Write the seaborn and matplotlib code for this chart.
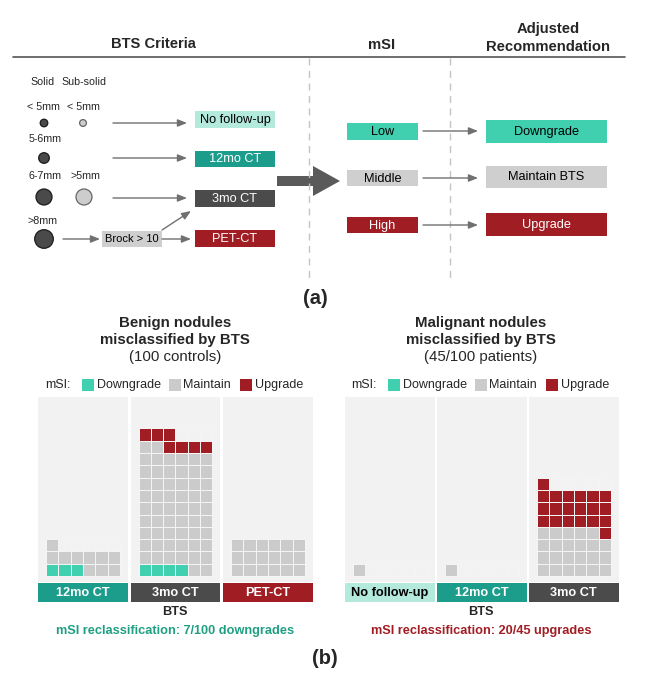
import numpy as np
import pandas as pd
import matplotlib
matplotlib.use("Agg")
import matplotlib.pyplot as plt
from matplotlib.patches import Rectangle, Circle, Polygon
from matplotlib.colors import ListedColormap
import seaborn as sns

# ---------------- data ----------------
benign_bts = ["12mo CT", "3mo CT", "PET-CT"]
benign_downgrade = [3, 4, 0]
benign_maintain = [10, 58, 18]
benign_upgrade = [0, 7, 0]

malignant_bts = ["No follow-up", "12mo CT", "3mo CT"]
malignant_downgrade = [0, 0, 0]
malignant_maintain = [1, 1, 23]
malignant_upgrade = [0, 0, 20]

msi_categories = ["Downgrade", "Maintain", "Upgrade"]
bts_outcomes = ["No follow-up", "12mo CT", "3mo CT", "PET-CT"]
msi_levels = ["Low", "Middle", "High"]
adjusted_recs = ["Downgrade", "Maintain BTS", "Upgrade"]

# ---------------- style ----------------
sns.set_style("white")
plt.rcParams['font.family'] = ['Liberation Sans', 'DejaVu Sans']

TEAL = "#40d0b0"
MINT = "#b3eadc"
DTEAL = "#1c9d8c"
DGRAY = "#4b4b4b"
RED = "#a11d24"
LGRAY = "#cfcfcf"
PANEL = "#f2f2f2"
ARROW = "#707070"

bts_colors = {"No follow-up": (MINT, "black"), "12mo CT": (DTEAL, "white"),
              "3mo CT": (DGRAY, "white"), "PET-CT": (RED, "white")}
msi_colors = {"Low": (TEAL, "black"), "Middle": (LGRAY, "black"), "High": (RED, "white")}
adj_colors = {"Downgrade": (TEAL, "black"), "Maintain BTS": (LGRAY, "black"), "Upgrade": (RED, "white")}
cat_colors = [TEAL, "#cbcbcb", RED]

W, H = 650, 680
fig = plt.figure(figsize=(W / 100, H / 100), dpi=100)
ax0 = fig.add_axes([0, 0, 1, 1])
ax0.set_xlim(0, W)
ax0.set_ylim(H, 0)
ax0.axis('off')


def box(x0, y0, x1, y1, fc, text=None, tc="black", size=9, weight="normal"):
    ax0.add_patch(Rectangle((x0, y0), x1 - x0, y1 - y0, facecolor=fc, edgecolor="none"))
    if text is not None:
        ax0.text((x0 + x1) / 2, (y0 + y1) / 2 + 0.5, text, ha="center", va="center",
                 color=tc, fontsize=size, fontweight=weight)


def arrow(x0, y0, x1, y1, color=ARROW):
    ax0.annotate("", xy=(x1, y1), xytext=(x0, y0),
                 arrowprops=dict(arrowstyle="-|>,head_length=0.55,head_width=0.22",
                                 color=color, lw=1.0, shrinkA=0, shrinkB=0))


# ---------------- part (a) ----------------
ax0.text(153, 44, "BTS Criteria", ha="center", va="center", fontsize=10.6, fontweight="bold")
ax0.text(382, 45, "mSI", ha="center", va="center", fontsize=10.6, fontweight="bold")
ax0.text(548, 29, "Adjusted", ha="center", va="center", fontsize=10.6, fontweight="bold")
ax0.text(548, 47, "Recommendation", ha="center", va="center", fontsize=10.6, fontweight="bold")
ax0.plot([13, 625], [57, 57], color="#555555", lw=1.2)
for xv in [309, 450]:
    ax0.plot([xv, xv], [58, 278], color="#c4c4c4", lw=1.0, ls=(0, (5, 4)))

ax0.text(43, 82, "Solid", ha="center", va="center", fontsize=7.7)
ax0.text(84, 82, "Sub-solid", ha="center", va="center", fontsize=7.7)
size_labels = [("< 5mm", 43, 107), ("< 5mm", 83, 107), ("5-6mm", 45, 139),
               ("6-7mm", 45, 176), (">5mm", 85, 176), (">8mm", 43, 221)]
for t, x, y in size_labels:
    ax0.text(x, y, t, ha="center", va="center", fontsize=7.7)

nodules = [(44, 123, 3.8, "solid"), (83, 123, 3.4, "sub"), (44, 158, 5.3, "solid"),
           (44, 197, 8.0, "solid"), (84, 197, 8.0, "sub"), (44, 239, 9.3, "solid")]
for x, y, r, kind in nodules:
    if kind == "solid":
        ax0.add_patch(Circle((x, y), r, facecolor="#4a4a4a", edgecolor="#1a1a1a", lw=0.9))
    else:
        ax0.add_patch(Circle((x, y), r, facecolor="#cdcdcd", edgecolor="#666666", lw=0.9))

bts_box_y = {"No follow-up": (111, 128), "12mo CT": (151, 167),
             "3mo CT": (190, 207), "PET-CT": (230, 247)}
for name in bts_outcomes:
    fc, tc = bts_colors[name]
    y0, y1 = bts_box_y[name]
    box(195, y0, 275, y1, fc, name, tc, size=9.2)

for y in [123, 158, 198]:
    arrow(113, y, 187, y)
arrow(63, 239, 100, 239)
box(102, 231, 162, 247, LGRAY, "Brock > 10", "black", size=8)
arrow(162, 239, 191, 239)
arrow(162, 230, 191, 211)

ax0.add_patch(Polygon([(277, 176), (313, 176), (313, 166), (340, 181), (313, 196),
                       (313, 186), (277, 186)], closed=True, facecolor="#5a5a5a",
                      edgecolor="none"))

msi_box_y = {"Low": (123, 140), "Middle": (170, 186), "High": (217, 233)}
for name in msi_levels:
    fc, tc = msi_colors[name]
    y0, y1 = msi_box_y[name]
    box(347, y0, 418, y1, fc, name, tc, size=9.2)
for y in [131, 178, 225]:
    arrow(423, y, 478, y)
adj_box_y = {"Downgrade": (120, 143), "Maintain BTS": (166, 188), "Upgrade": (213, 236)}
for name in adjusted_recs:
    fc, tc = adj_colors[name]
    y0, y1 = adj_box_y[name]
    box(486, y0, 607, y1, fc, name, tc, size=9.2)

ax0.text(315, 298, "(a)", ha="center", va="center", fontsize=14.5, fontweight="bold")
ax0.text(325, 659, "(b)", ha="center", va="center", fontsize=14.5, fontweight="bold")

# ---------------- part (b) ----------------
CELL = 12.3
PANEL_TOP, PANEL_BOT = 397, 582
PANEL_W = 89.5


def waffle_frame(down, keep, up, ncol=6):
    codes = [0] * down + [1] * keep + [2] * up
    nrow = int(np.ceil(len(codes) / ncol))
    m = np.full((nrow, ncol), np.nan)
    for i, c in enumerate(codes):
        m[i // ncol, i % ncol] = c
    return pd.DataFrame(m)


def draw_group(names, downs, keeps, ups, lefts, center, title1, title2, title3,
               footer, footer_color):
    ax0.text(center, 323, title1, ha="center", va="center", fontsize=10.8, fontweight="bold")
    ax0.text(center, 340, title2, ha="center", va="center", fontsize=10.8, fontweight="bold")
    ax0.text(center, 357, title3, ha="center", va="center", fontsize=10.8)
    # legend
    lx = center - 130
    ax0.text(lx, 385, "mSI:", ha="left", va="center", fontsize=9)
    offs = [37, 124, 195]
    for off, cat, col in zip(offs, msi_categories, cat_colors):
        ax0.add_patch(Rectangle((lx + off, 379), 11.5, 11.5, facecolor=col, edgecolor="none"))
        ax0.text(lx + off + 14.5, 385, cat, ha="left", va="center", fontsize=9)
    cmap = ListedColormap(cat_colors)
    cmap.set_bad(PANEL)
    for name, d, k, u, left in zip(names, downs, keeps, ups, lefts):
        ax = fig.add_axes([left / W, 1 - PANEL_BOT / H, PANEL_W / W,
                           (PANEL_BOT - PANEL_TOP) / H])
        df = waffle_frame(d, k, u)
        sns.heatmap(df, ax=ax, cmap=cmap, vmin=-0.5, vmax=2.5, cbar=False,
                    mask=df.isna(), linewidths=0.45, linecolor="#f4f4f4",
                    xticklabels=False, yticklabels=False)
        ax.set_facecolor(PANEL)
        ax.set_xlim(-8 / CELL, (PANEL_W - 8) / CELL)
        ax.set_ylim(-6 / CELL, (PANEL_BOT - PANEL_TOP - 6) / CELL)
        for s in ax.spines.values():
            s.set_visible(False)
        ax.set_xticks([])
        ax.set_yticks([])
        ax.set_xlabel("")
        ax.set_ylabel("")
        fc, tc = bts_colors[name]
        box(left, 583, left + PANEL_W, 602, fc, name, tc, size=9.2, weight="bold")
    ax0.text(center, 612, "BTS", ha="center", va="center", fontsize=9.2, fontweight="bold")
    ax0.text(center, 631, footer, ha="center", va="center", fontsize=9.2,
             fontweight="bold", color=footer_color)


draw_group(benign_bts, benign_downgrade, benign_maintain, benign_upgrade,
           [38, 130.5, 223], 175, "Benign nodules", "misclassified by BTS",
           "(100 controls)", "mSI reclassification: 7/100 downgrades", "#1f9f82")
draw_group(malignant_bts, malignant_downgrade, malignant_maintain, malignant_upgrade,
           [345, 437, 529], 481, "Malignant nodules", "misclassified by BTS",
           "(45/100 patients)", "mSI reclassification: 20/45 upgrades", RED)

fig.savefig("out.png", dpi=100, facecolor="white")
